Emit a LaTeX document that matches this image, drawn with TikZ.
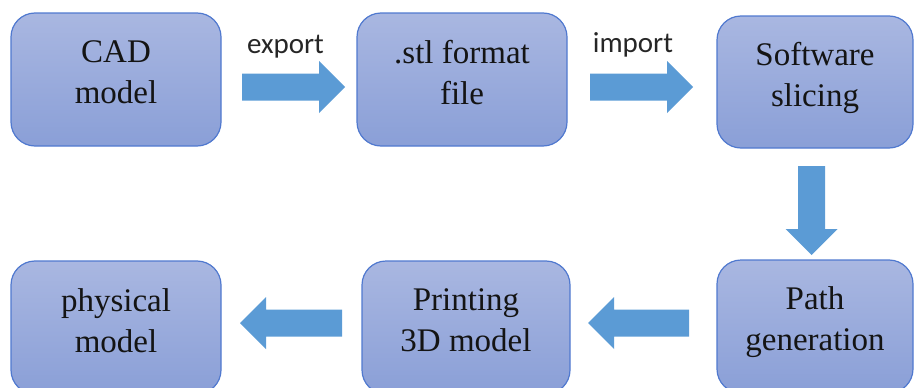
\documentclass[tikz,border=0pt]{standalone}
\usepackage{fontspec}
\setmainfont{Liberation Serif}
\newfontfamily\labelfont{Carlito}
\usetikzlibrary{calc}
\definecolor{boxtop}{HTML}{A9B7E1}
\definecolor{boxbot}{HTML}{8A9FD7}
\definecolor{boxline}{HTML}{5079CF}
\definecolor{arrowblue}{HTML}{5B9BD5}
\definecolor{txtcol}{HTML}{141414}
\definecolor{lblcol}{HTML}{262626}
\tikzset{
  box/.style={rectangle, rounded corners=24pt, draw=boxline, line width=1.2pt,
    top color=boxtop, bottom color=boxbot, inner sep=0pt,
    minimum width=210pt, minimum height=133pt},
  boxtext/.style={anchor=north, align=center, inner sep=0pt, text=txtcol,
    font=\fontsize{33}{41}\selectfont},
  flowlabel/.style={anchor=base, inner sep=0pt, text=lblcol,
    font=\labelfont\fontsize{29}{34}\selectfont},
  blockarrow/.style={fill=arrowblue, draw=none, to path={
    -- ($(\tikztostart)!13.5pt!90:(\tikztotarget)$)
    -- ($($(\tikztotarget)!26pt!(\tikztostart)$)!13.5pt!-90:(\tikztostart)$)
    -- ($($(\tikztotarget)!26pt!(\tikztostart)$)!26pt!-90:(\tikztostart)$)
    -- (\tikztotarget)
    -- ($($(\tikztotarget)!26pt!(\tikztostart)$)!26pt!90:(\tikztostart)$)
    -- ($($(\tikztotarget)!26pt!(\tikztostart)$)!13.5pt!90:(\tikztostart)$)
    -- ($(\tikztostart)!13.5pt!-90:(\tikztotarget)$)
    -- cycle}}
}
\begin{document}
\begin{tikzpicture}[x=1pt, y=-1pt]
\useasboundingbox (0,0) rectangle (914,388);
\clip (0,0) rectangle (914,388);
% boxes
\node[box] (cad) at (116,79.5) {};
\node[box] (stl) at (462,79.5) {};
\node[box, minimum width=196pt, minimum height=132pt] (soft) at (815,82) {};
\node[box, minimum width=196pt] (path) at (815,326.5) {};
\node[box, minimum width=208pt] (print) at (466,327.5) {};
\node[box] (phys) at (116,327.5) {};
% texts
\node[boxtext] (tcad) at (116,40.5) {CAD\\model};
\node[boxtext] (tstl) at (462,40.5) {.stl format\\file};
\node[boxtext] (tsoft) at (815,42.5) {Software\\slicing};
\node[boxtext] (tpath) at (815,286.5) {Path\\generation};
\node[boxtext] (tprint) at (466,288) {Printing\\3D model};
\node[boxtext] (tphys) at (116,288) {physical\\model};
% labels
\node[flowlabel] (lexp) at (285.5,53) {export};
\node[flowlabel] (limp) at (633,52) {import};
% arrow ends
\coordinate (e1) at (242,87);   \coordinate (e2) at (345,87);
\coordinate (i1) at (590,87);   \coordinate (i2) at (693,87);
\coordinate (d1) at (811.5,166); \coordinate (d2) at (811.5,255);
\coordinate (p1) at (689,323);  \coordinate (p2) at (588,323);
\coordinate (q1) at (342,323);  \coordinate (q2) at (240,323);
\path[blockarrow] (e1) to (e2);
\path[blockarrow] (i1) to (i2);
\path[blockarrow] (d1) to (d2);
\path[blockarrow] (p1) to (p2);
\path[blockarrow] (q1) to (q2);
\end{tikzpicture}
\end{document}
